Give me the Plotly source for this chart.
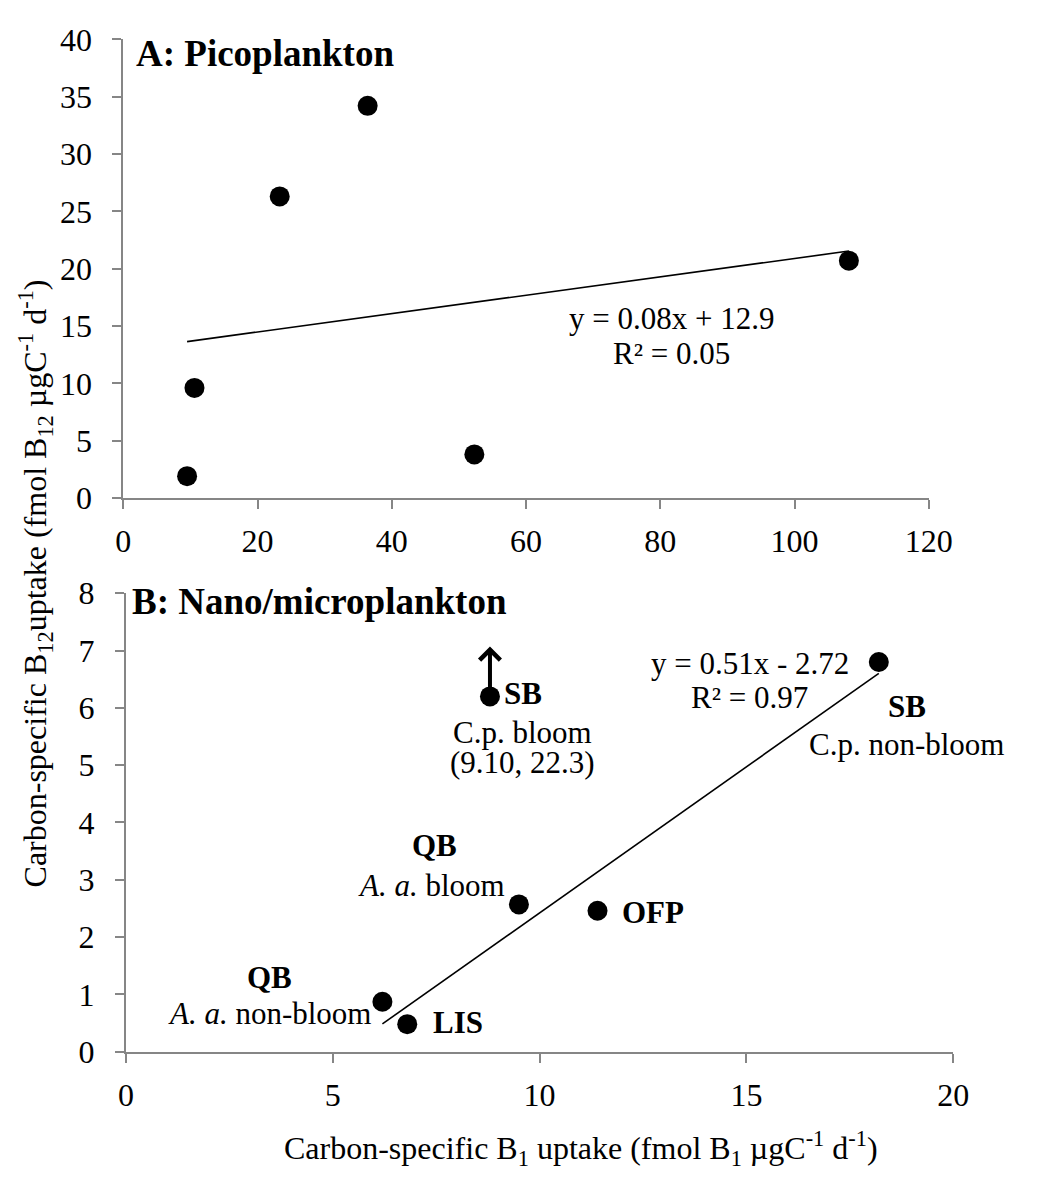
import numpy as np
import plotly.graph_objects as go

# ---------------- data ----------------
pico_x = [9.5, 10.6, 23.3, 36.4, 52.3, 108.1]
pico_y = [1.9, 9.6, 26.3, 34.2, 3.8, 20.7]
pico_eq = ["y = 0.08x + 12.9", "R² = 0.05"]

nano_site = ["QB", "LIS", "SB", "QB", "OFP", "SB"]
nano_desc = ["<i>A. a.</i> non-bloom", "", "C.p. bloom<br>(9.10, 22.3)",
             "<i>A. a.</i> bloom", "", "C.p. non-bloom"]
nano_x = [6.2, 6.8, 8.8, 9.5, 11.4, 18.2]
nano_y = [0.87, 0.48, 6.2, 2.57, 2.46, 6.8]
nano_in_fit = [True, True, False, True, True, True]
nano_eq = ["y = 0.51x - 2.72", "R² = 0.97"]

pico_xticks = [0, 20, 40, 60, 80, 100, 120]
pico_yticks = [0, 5, 10, 15, 20, 25, 30, 35, 40]
nano_xticks = [0, 5, 10, 15, 20]
nano_yticks = [0, 1, 2, 3, 4, 5, 6, 7, 8]

title_a = "A: Picoplankton"
title_b = "B: Nano/microplankton"
x_title = "Carbon-specific B<sub>1</sub> uptake (fmol B<sub>1</sub> µgC<sup>-1</sup> d<sup>-1</sup>)"
y_title = "Carbon-specific B<sub>12</sub>uptake (fmol B<sub>12</sub> µgC<sup>-1</sup> d<sup>-1</sup>)"

# ---------------- styles / layout ----------------
W, H = 1039, 1186
FONT = "Liberation Serif, Times New Roman, serif"
AXC = "#868686"
FS = 31
TXT = dict(family=FONT, size=FS, color="black")

def px_x(p):
    return p / W

def px_y(p):
    return 1 - p / H

fig = go.Figure()

# picoplankton
fig.add_trace(go.Scatter(x=pico_x, y=pico_y, mode="markers", xaxis="x", yaxis="y",
                         marker=dict(size=20, color="black"), hoverinfo="x+y"))
s, b = np.polyfit(pico_x, pico_y, 1)
xl = np.array([min(pico_x), max(pico_x)])
fig.add_trace(go.Scatter(x=xl, y=s * xl + b, mode="lines", xaxis="x", yaxis="y",
                         line=dict(color="black", width=1.6), hoverinfo="skip"))

# nano/microplankton
fx = [x for x, k in zip(nano_x, nano_in_fit) if k]
fy = [y for y, k in zip(nano_y, nano_in_fit) if k]
s2, b2 = np.polyfit(fx, fy, 1)
xl2 = np.array([min(fx), max(fx)])
fig.add_trace(go.Scatter(x=xl2, y=s2 * xl2 + b2, mode="lines", xaxis="x2", yaxis="y2",
                         line=dict(color="black", width=1.6), hoverinfo="skip"))
fig.add_trace(go.Scatter(x=nano_x, y=nano_y, mode="markers", xaxis="x2", yaxis="y2",
                         marker=dict(size=20, color="black"), hoverinfo="x+y"))

ann = []
# titles
ann.append(dict(text="<b>" + title_a + "</b>", x=px_x(130), y=px_y(37), xref="paper", yref="paper",
                xanchor="left", yanchor="middle", showarrow=False,
                font=dict(family=FONT, size=37, color="black")))
ann.append(dict(text="<b>" + title_b + "</b>", x=px_x(126), y=px_y(602), xref="paper", yref="paper",
                xanchor="left", yanchor="middle", showarrow=False,
                font=dict(family=FONT, size=37, color="black")))

# equations
for i, t in enumerate(pico_eq):
    ann.append(dict(text=t, x=81.6, y=15.63, yshift=-35 * i, xref="x", yref="y",
                    xanchor="center", yanchor="middle", showarrow=False, font=TXT))
for i, t in enumerate(nano_eq):
    ann.append(dict(text=t, x=15.08, y=6.77, yshift=-34 * i, xref="x2", yref="y2",
                    xanchor="center", yanchor="middle", showarrow=False, font=TXT))

# site labels (bold) : (xanchor, xshift, yshift)
site_pos = [("center", -113, 24), ("left", 24, 2), ("left", 12, 3),
            ("center", -84, 59), ("left", 22, -2), ("center", 28, -44)]
desc_pos = [("right", -8, -12), None, ("center", 33, -36),
            ("right", -12, 19), None, ("center", 28, -82)]
LINE = 30
for i in range(len(nano_x)):
    xa, xs, ys = site_pos[i]
    ann.append(dict(text="<b>" + nano_site[i] + "</b>", x=nano_x[i], y=nano_y[i], xref="x2", yref="y2",
                    xanchor=xa, yanchor="middle", xshift=xs, yshift=ys, showarrow=False, font=TXT))
    if nano_desc[i] and desc_pos[i]:
        xa, xs, ys = desc_pos[i]
        for j, line in enumerate(nano_desc[i].split("<br>")):
            ann.append(dict(text=line, x=nano_x[i], y=nano_y[i], xref="x2", yref="y2",
                            xanchor=xa, yanchor="middle", xshift=xs, yshift=ys - LINE * j,
                            showarrow=False, font=TXT))

# arrow for the off-scale point
k = nano_in_fit.index(False)
ann.append(dict(text="", x=nano_x[k], y=nano_y[k] + 0.87, ax=nano_x[k], ay=nano_y[k],
                xref="x2", yref="y2", axref="x2", ayref="y2", showarrow=True,
                arrowhead=4, arrowsize=1.0, arrowwidth=4, arrowcolor="black",
                standoff=0, startstandoff=0))

# axis titles
ann.append(dict(text=y_title, x=px_x(28), y=px_y(583), xref="paper", yref="paper",
                xanchor="center", yanchor="middle", textangle=-90, showarrow=False,
                font=dict(family=FONT, size=32, color="black")))
ann.append(dict(text=x_title, x=px_x(283), y=px_y(1166), xref="paper", yref="paper",
                xanchor="left", yanchor="middle", showarrow=False,
                font=dict(family=FONT, size=32, color="black")))

axis_common = dict(showline=True, linecolor=AXC, linewidth=2, ticks="outside", ticklen=9,
                   tickcolor=AXC, tickwidth=2, showgrid=False, zeroline=False,
                   tickfont=dict(family=FONT, size=32, color="black"), fixedrange=True)

fig.update_layout(
    width=W, height=H, margin=dict(l=0, r=0, t=0, b=0),
    paper_bgcolor="white", plot_bgcolor="white", showlegend=False,
    font=dict(family=FONT, size=FS, color="black"),
    xaxis=dict(domain=[px_x(119), px_x(950)], range=[0, 120], tickvals=pico_xticks,
               anchor="y", ticklabelstandoff=5, **axis_common),
    yaxis=dict(domain=[px_y(495), px_y(22)], range=[0, 40], tickvals=pico_yticks,
               anchor="x", ticklabelstandoff=14, **axis_common),
    xaxis2=dict(domain=[px_x(121.7), px_x(975.3)], range=[0, 20], tickvals=nano_xticks,
                anchor="y2", ticklabelstandoff=5, **axis_common),
    yaxis2=dict(domain=[px_y(1066), px_y(593.3)], range=[0, 8], tickvals=nano_yticks,
                anchor="x2", ticklabelstandoff=14, **axis_common),
    annotations=ann,
)

fig.write_html("out.html")
